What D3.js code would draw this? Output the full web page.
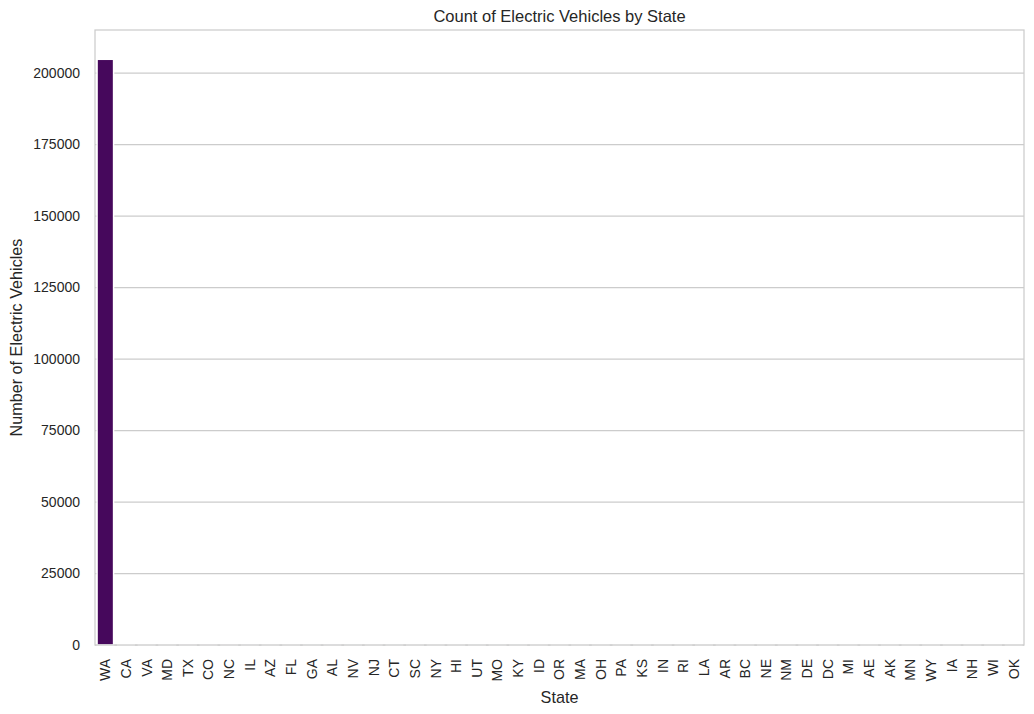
<!DOCTYPE html>
<html>
<head>
<meta charset="utf-8">
<script src="https://cdn.jsdelivr.net/npm/d3@7"></script>
<style>
  body { margin: 0; background: #fff; }
  text { font-family: "Liberation Sans", Arial, sans-serif; fill: #262626; }
</style>
</head>
<body>
<script>
// states in the order seaborn drew them (descending count)
var states = ['WA','CA','VA','MD','TX','CO','NC','IL','AZ','FL','GA','AL','NV','NJ','CT',
  'SC','NY','HI','UT','MO','KY','ID','OR','MA','OH','PA','KS','IN','RI','LA','AR','BC',
  'NE','NM','DE','DC','MI','AE','AK','MN','WY','IA','NH','WI','OK'];
// counts (only WA is readable, the rest are too small to see)
var counts = [204800,104,46,35,24,18,16,14,11,10,9,8,8,7,7,6,6,6,5,5,5,4,4,4,4,3,3,3,
  2,2,2,2,2,2,2,2,1,1,1,1,1,1,1,1,1];
var yTicks = [0,25000,50000,75000,100000,125000,150000,175000,200000];

var width = 1034,
    height = 714;
var plotLeft = 95, plotRight = 1024, plotTop = 30, plotBottom = 645;

var svg = d3.select('body')
  .append('svg')
  .attr('width', width)
  .attr('height', height);

var x = d3.scaleBand()
  .domain(states)
  .range([plotLeft, plotRight])
  .paddingInner(0.2)
  .paddingOuter(0.1);

var y = d3.scaleLinear()
  .domain([0, d3.max(counts) * 1.05])
  .range([plotBottom, plotTop]);

var color = function(i) {
  return d3.interpolateViridis((i + 1) / (states.length + 1));
};

// horizontal gridlines
svg.append('g')
  .selectAll('line')
  .data(yTicks)
  .enter()
  .append('line')
  .attr('x1', plotLeft)
  .attr('x2', plotRight)
  .attr('y1', function(d) { return y(d); })
  .attr('y2', function(d) { return y(d); })
  .attr('stroke', '#cccccc')
  .attr('stroke-width', 1.25);

// bars
svg.append('g')
  .selectAll('rect')
  .data(counts)
  .enter()
  .append('rect')
  .attr('x', function(d, i) { return x(states[i]); })
  .attr('width', x.bandwidth())
  .attr('y', function(d) { return y(d); })
  .attr('height', function(d) { return y(0) - y(d); })
  .attr('fill', function(d, i) { return color(i); })
  .attr('stroke', '#ffffff')
  .attr('stroke-width', 1.5);

// spines
svg.append('rect')
  .attr('x', plotLeft)
  .attr('y', plotTop)
  .attr('width', plotRight - plotLeft)
  .attr('height', plotBottom - plotTop)
  .attr('fill', 'none')
  .attr('stroke', '#cccccc')
  .attr('stroke-width', 1.25);

// y axis
var yAxis = svg.append('g')
  .attr('transform', 'translate(' + plotLeft + ',0)')
  .call(d3.axisLeft(y).tickValues(yTicks).tickFormat(d3.format('d')).tickSize(0).tickPadding(15));
yAxis.select('.domain').remove();
yAxis.selectAll('text')
  .style('font-size', '14px')
  .attr('fill', '#262626');

// x axis
var xAxis = svg.append('g')
  .attr('transform', 'translate(0,' + plotBottom + ')')
  .call(d3.axisBottom(x).tickSize(0).tickPadding(0));
xAxis.select('.domain').remove();
xAxis.selectAll('text')
  .style('font-size', '14px')
  .attr('fill', '#262626')
  .attr('transform', 'rotate(-90)')
  .attr('text-anchor', 'end')
  .attr('x', -14)
  .attr('y', 0)
  .attr('dy', '0.35em');

// labels
svg.append('text')
  .attr('x', (plotLeft + plotRight) / 2)
  .attr('y', 22)
  .attr('text-anchor', 'middle')
  .style('font-size', '16.5px')
  .text('Count of Electric Vehicles by State');

svg.append('text')
  .attr('x', (plotLeft + plotRight) / 2)
  .attr('y', 703)
  .attr('text-anchor', 'middle')
  .style('font-size', '16.2px')
  .text('State');

svg.append('text')
  .attr('transform', 'translate(22,' + (plotTop + plotBottom) / 2 + ') rotate(-90)')
  .attr('text-anchor', 'middle')
  .style('font-size', '16.2px')
  .text('Number of Electric Vehicles');
</script>
</body>
</html>
